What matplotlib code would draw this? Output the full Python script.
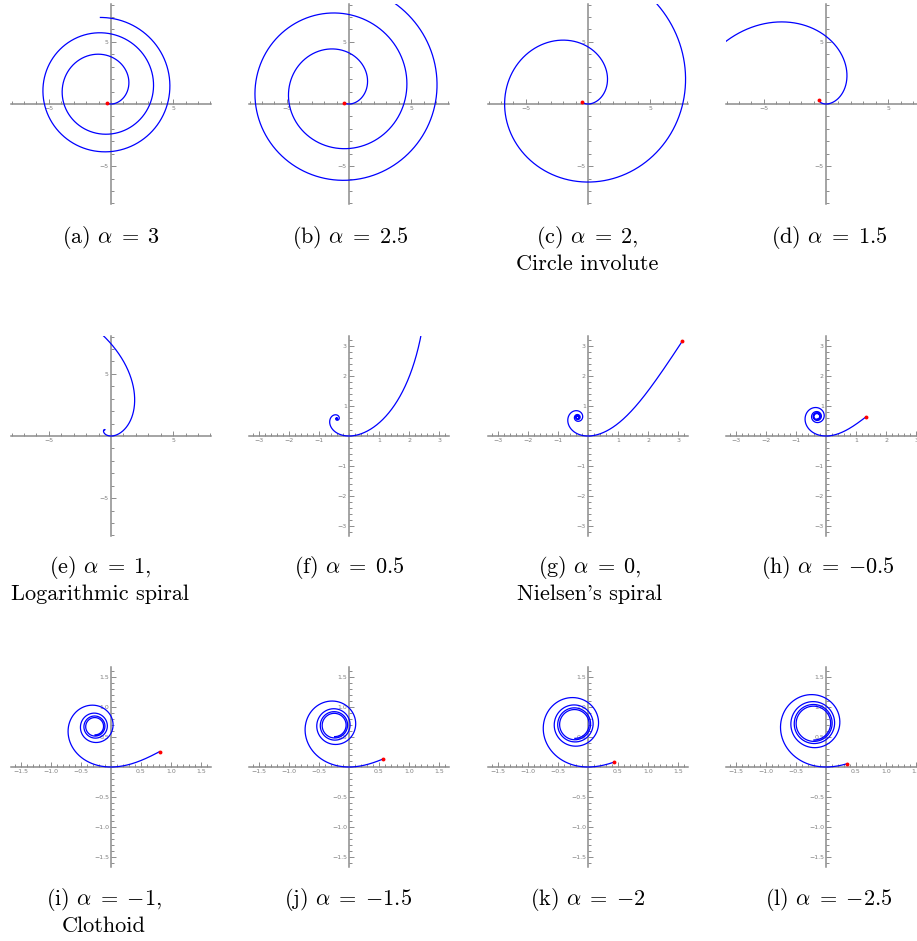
import numpy as np
import matplotlib
matplotlib.use('Agg')
import matplotlib.pyplot as plt
from matplotlib.ticker import MultipleLocator

plt.rcParams['mathtext.fontset'] = 'cm'

# log-aesthetic curves, one panel per alpha
alphas = [3, 2.5, 2, 1.5, 1, 0.5, 0, -0.5, -1, -1.5, -2, -2.5]
alpha_txt = ['3', '2.5', '2', '1.5', '1', '0.5', '0', '-0.5', '-1', '-1.5', '-2', '-2.5']
letters = list('abcdefghijkl')
names = ['', '', 'Circle involute', '', 'Logarithmic spiral', '',
         "Nielsen's spiral", '', 'Clothoid', '', '', '']

# parameter (tangent angle) range, cut just short of the singular end
theta_lo, theta_hi = -8 * np.pi, 5 * np.pi
gap = 0.01

# axes ranges and ticks per row type
half_range = [8.05] * 5 + [3.33] * 3 + [1.67] * 4
big_ticks = [-5, 5]
mid_ticks = [-3, -2, -1, 1, 2, 3]
small_ticks = [-1.5, -1.0, -0.5, 0.5, 1.0, 1.5]
ticks = [big_ticks] * 5 + [mid_ticks] * 3 + [small_ticks] * 4
minor_step = [1] * 5 + [0.2] * 3 + [0.1] * 4

# layout (pixels)
W, H = 917, 941
origin_x = [111, 349, 588, 826, 111, 349, 588, 826, 111, 349, 588, 826]
origin_y = [104] * 4 + [436] * 4 + [767] * 4
cap_x = [111, 350, 587, 829, 100, 349, 590, 828, 104, 348, 588, 829]
cap_y = [243] * 4 + [573] * 4 + [905] * 4
line_gap = 27


def spiral(alpha, n=150000):
    k = alpha - 1
    if k == 0:
        th = np.concatenate([np.linspace(theta_lo, 0, n), np.linspace(0, theta_hi, n)[1:]])
        rho = np.exp(th)
    else:
        lo, hi = theta_lo, theta_hi
        if k > 0:
            lo = max(lo, -1 / k + gap)
        else:
            hi = min(hi, -1 / k - gap)
        w = np.concatenate([np.geomspace(1 + k * lo, 1, n), np.geomspace(1, 1 + k * hi, n)[1:]])
        th = (w - 1) / k
        rho = w ** (1 / k)
    f = np.exp(1j * th) * rho
    p = np.concatenate([[0], np.cumsum(0.5 * (f[1:] + f[:-1]) * np.diff(th))])
    p = p - p[n - 1]
    return p


fig = plt.figure(figsize=(W / 100, H / 100), dpi=100)

for i, a in enumerate(alphas):
    cx, cy = origin_x[i], origin_y[i]
    ax = fig.add_axes([(cx - 100) / W, 1 - (cy + 100) / H, 200 / W, 200 / H])
    L = half_range[i]
    ax.set_xlim(-L, L)
    ax.set_ylim(-L, L)
    ax.patch.set_visible(False)

    p = spiral(a)
    ax.plot(p.real, p.imag, color=(0, 0, 1), lw=0.9, zorder=3)
    if a > 1:
        ax.plot(p.real[0], p.imag[0], 'o', color='red', ms=2.8, mec='none', zorder=4)
    elif a < 1:
        ax.plot(p.real[-1], p.imag[-1], 'o', color='red', ms=2.8, mec='none', zorder=4)

    for s in ['top', 'right']:
        ax.spines[s].set_visible(False)
    for s in ['left', 'bottom']:
        ax.spines[s].set_position('zero')
        ax.spines[s].set_color('#8c8c8c')
        ax.spines[s].set_linewidth(1.1)
    lab = [('%g' % t).replace('-', '\u2212') if L > 2 else ('%.1f' % t).replace('-', '\u2212')
           for t in ticks[i]]
    ax.set_xticks(ticks[i], labels=lab)
    ax.set_yticks(ticks[i], labels=lab)
    ax.xaxis.set_minor_locator(MultipleLocator(minor_step[i]))
    ax.yaxis.set_minor_locator(MultipleLocator(minor_step[i]))
    ax.tick_params(which='both', direction='in', color='#8c8c8c', width=0.7,
                   labelsize=4.5, labelcolor='#808080', pad=1.5)
    ax.tick_params(which='major', length=3.5)
    ax.tick_params(which='minor', length=2)

    fig.text(cap_x[i] / W, 1 - cap_y[i] / H,
             '(%s) $\\alpha \\;=\\; {%s}$' % (letters[i], alpha_txt[i]) + (',' if names[i] else ''),
             fontfamily='cmr10', fontsize=16, ha='center', va='baseline')
    if names[i]:
        fig.text(cap_x[i] / W, 1 - (cap_y[i] + line_gap) / H, names[i],
                 fontfamily='cmr10', fontsize=16, ha='center', va='baseline')

fig.savefig('out.png', dpi=100)
